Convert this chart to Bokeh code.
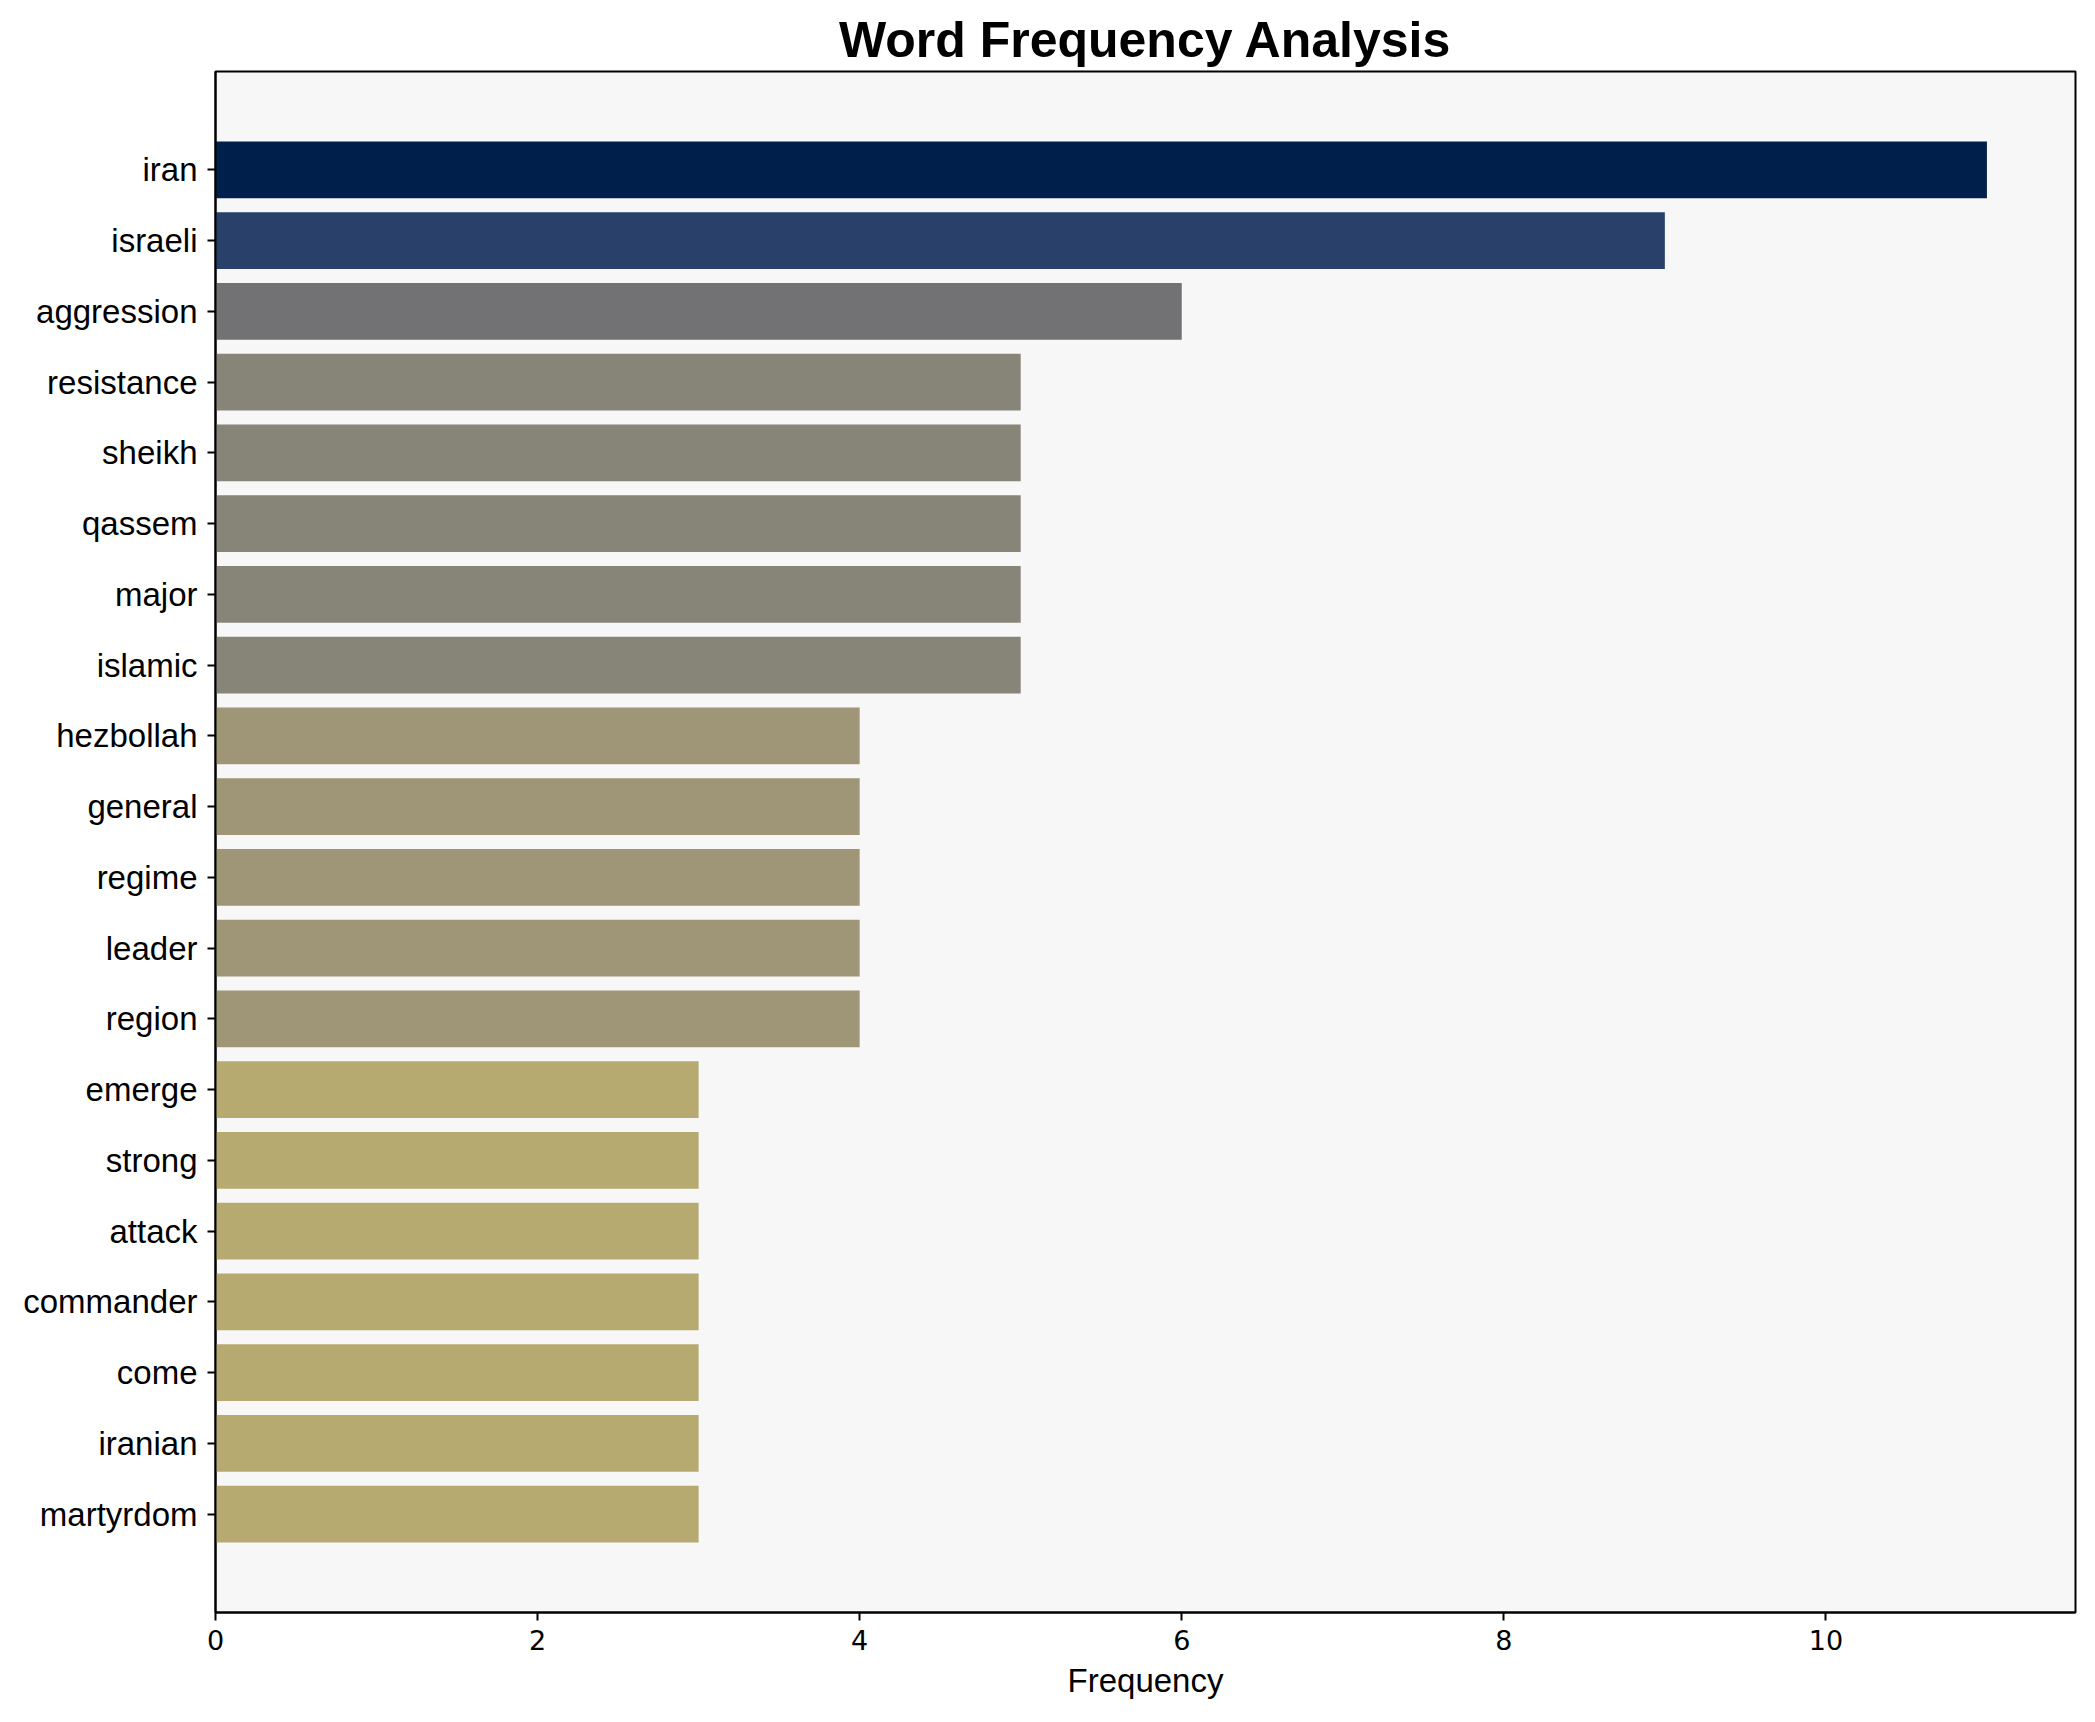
from bokeh.plotting import figure
from bokeh.models import FactorRange, Range1d, FixedTicker, ColumnDataSource
from bokeh.transform import linear_cmap
from bokeh.palettes import Cividis256
from bokeh.embed import file_html
from bokeh.resources import INLINE

words = ["iran", "israeli", "aggression", "resistance", "sheikh", "qassem", "major",
         "islamic", "hezbollah", "general", "regime", "leader", "region", "emerge",
         "strong", "attack", "commander", "come", "iranian", "martyrdom"]
counts = [11, 9, 6, 5, 5, 5, 5, 5, 4, 4, 4, 4, 4, 3, 3, 3, 3, 3, 3, 3]
x_ticks = [0, 2, 4, 6, 8, 10]

source = ColumnDataSource(dict(word=words, count=counts))

p = figure(
    width=2087, height=1714,
    y_range=FactorRange(factors=list(reversed(words)), range_padding=0.89,
                        range_padding_units="absolute"),
    x_range=Range1d(0, 11.55),
    output_backend="svg", toolbar_location=None,
    title="Word Frequency Analysis",
    min_border_left=215, min_border_right=12, min_border_top=71, min_border_bottom=102,
)

p.hbar(y="word", right="count", left=0, height=0.8, source=source,
       fill_color=linear_cmap("count", list(reversed(Cividis256)), 0, max(counts)),
       line_color=None)

p.background_fill_color = "#F7F7F7"
p.border_fill_color = "white"
p.outline_line_color = "black"
p.outline_line_width = 2
p.xgrid.visible = False
p.ygrid.visible = False

p.title.text_font = "Liberation Sans"
p.title.text_font_size = "50px"
p.title.text_font_style = "bold"
p.title.align = "center"
p.title.text_color = "black"
p.title.standoff = 7

ya = p.yaxis[0]
ya.major_label_text_font = "Liberation Sans"
ya.major_label_text_font_size = "33px"
ya.major_label_text_color = "black"
ya.major_tick_out = 8
ya.major_tick_in = 0
ya.major_tick_line_width = 2
ya.major_tick_line_color = "black"
ya.axis_line_width = 2
ya.axis_line_color = "black"
ya.major_label_standoff = 10

xa = p.xaxis[0]
xa.ticker = FixedTicker(ticks=x_ticks)
xa.minor_tick_line_color = None
xa.major_label_text_font = "DejaVu Sans"
xa.major_label_text_font_size = "27px"
xa.major_label_text_color = "black"
xa.major_tick_out = 8
xa.major_tick_in = 0
xa.major_tick_line_width = 2
xa.major_tick_line_color = "black"
xa.axis_line_width = 2
xa.axis_line_color = "black"
xa.major_label_standoff = 9
xa.axis_label = "Frequency"
xa.axis_label_text_font = "Liberation Sans"
xa.axis_label_text_font_size = "33px"
xa.axis_label_text_font_style = "normal"
xa.axis_label_text_color = "black"
xa.axis_label_standoff = 9

open("out.html", "w").write(file_html(p, INLINE))
